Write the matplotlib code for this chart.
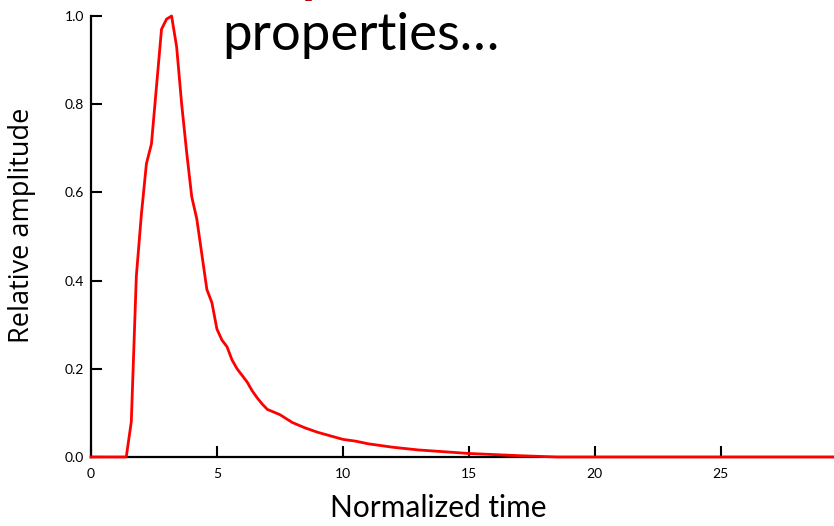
import matplotlib.pyplot as plt

# normalized time and relative amplitude of the pulse
time = [0, 1.4, 1.6, 1.8, 2.0, 2.2, 2.4, 2.8, 3.0, 3.2, 3.4, 3.6, 3.8, 4.0,
        4.2, 4.4, 4.6, 4.8, 5.0, 5.2, 5.4, 5.6, 5.8, 6.0, 6.2, 6.4, 6.6, 6.8,
        7.0, 7.5, 8.0, 8.5, 9.0, 9.5, 10.0, 10.5, 11.0, 11.5, 12.0, 13.0,
        14.0, 15.0, 16.0, 17.0, 18.0, 18.5, 29.5]
amplitude = [0, 0, 0.08, 0.41, 0.55, 0.665, 0.71, 0.97, 0.993, 1.0, 0.93,
             0.80, 0.69, 0.59, 0.54, 0.46, 0.38, 0.35, 0.29, 0.265, 0.25,
             0.22, 0.20, 0.185, 0.17, 0.15, 0.134, 0.12, 0.108, 0.096, 0.078,
             0.066, 0.056, 0.048, 0.040, 0.036, 0.030, 0.026, 0.022, 0.016,
             0.012, 0.008, 0.0055, 0.003, 0.001, 0, 0]

xticks = [0, 5, 10, 15, 20, 25]
yticks = [0.0, 0.2, 0.4, 0.6, 0.8, 1.0]

fig = plt.figure(figsize=(8.34, 5.26), dpi=100)
ax = fig.add_axes([91 / 834, 69 / 526, 743 / 834, 441 / 526])

ax.plot(time, amplitude, color='#ff0000', lw=2, clip_on=False, zorder=3)

ax.set_xlim(0, 29.5)
ax.set_ylim(0, 1.0)
ax.set_xticks(xticks)
ax.set_yticks(yticks)
ax.set_xticklabels([str(v) for v in xticks])
ax.set_yticklabels(['%.1f' % v for v in yticks])

for side in ['top', 'right']:
    ax.spines[side].set_visible(False)
for side in ['left', 'bottom']:
    ax.spines[side].set_linewidth(1.6)
    ax.spines[side].set_color('black')

ax.tick_params(axis='both', direction='in', length=8, width=1.5,
               labelsize=10, colors='black')
ax.tick_params(axis='x', pad=8)
ax.tick_params(axis='y', pad=5)
for lab in ax.get_xticklabels() + ax.get_yticklabels():
    lab.set_family('Lato')

ax.set_xlabel('Normalized time', fontsize=21.5, family='Lato')
ax.set_ylabel('Relative amplitude', fontsize=19.5, family='Open Sans')
ax.xaxis.set_label_coords(0.468, -0.085)
ax.yaxis.set_label_coords(-0.093, 0.526)
ax.yaxis.label.set_va('center')

# slide heading above the plot
fig.text(222 / 834, 1 - 50 / 526, 'properties\u2026', fontsize=38,
         family='Lato', color='black', va='baseline')
fig.text(302 / 834, 1 + 8 / 526, 'p', fontsize=38, family='Lato',
         fontweight='bold', color='#c00000', va='baseline')

fig.savefig('out.png', dpi=100)
